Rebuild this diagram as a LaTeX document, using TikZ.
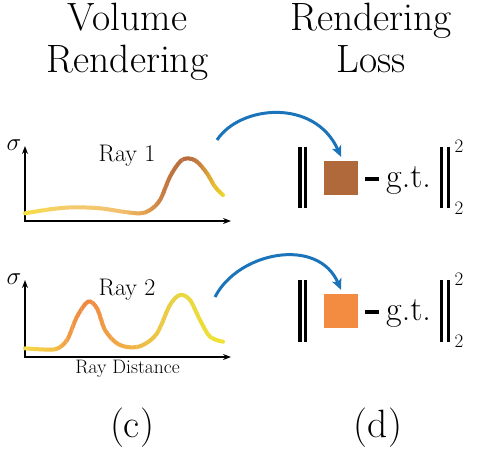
\documentclass[tikz,border=0pt]{standalone}
\usetikzlibrary{arrows.meta}
\definecolor{arcblue}{HTML}{1B74BA}
\definecolor{sqbrown}{HTML}{B0693A}
\definecolor{sqorange}{HTML}{F38B40}
\definecolor{aA}{HTML}{F7E23C}
\definecolor{aB}{HTML}{F5CD6C}
\definecolor{aC}{HTML}{F3C170}
\definecolor{aD}{HTML}{E4A250}
\definecolor{aE}{HTML}{C47A42}
\definecolor{aF}{HTML}{B86A3C}
\definecolor{aG}{HTML}{C98040}
\definecolor{aH}{HTML}{E2B532}
\definecolor{aI}{HTML}{F3E41E}
\definecolor{bA}{HTML}{F5E048}
\definecolor{bB}{HTML}{F3C048}
\definecolor{bC}{HTML}{F09844}
\definecolor{bD}{HTML}{EF8742}
\definecolor{bE}{HTML}{F09C44}
\definecolor{bF}{HTML}{F0B246}
\definecolor{bG}{HTML}{ECC646}
\definecolor{bH}{HTML}{E8D644}
\definecolor{bI}{HTML}{F2E430}
\newcommand\titlefont{\fontsize{39.5}{44}\selectfont}
\newcommand\rayfont{\fontsize{24}{26}\selectfont}
\newcommand\distfont{\fontsize{19.5}{21}\selectfont}
\newcommand\gtfont{\fontsize{34}{36}\selectfont}
\newcommand\expfont{\fontsize{19}{20}\selectfont}
\newcommand\sigfont{\fontsize{24}{26}\selectfont}
\newcommand\curveA[1]{\draw[curve,#1] plot[smooth,tension=0.55] coordinates {(25,213.3) (50,209.3) (73,207.3) (100,208.3) (123,211.7) (140,213.3) (150,210) (160,200) (170,176.7) (180,161.7) (188,158.3) (197,161.7) (207,173.3) (215,186.7) (223,195)};}
\newcommand\curveB[1]{\draw[curve,#1] plot[smooth,tension=0.55] coordinates {(25,348.3) (40,349.3) (56,349) (67,340) (77,316.7) (88,301.7) (97,308.3) (105,330) (117,343.3) (130,347.3) (143,345) (157,333.3) (170,305) (180,295) (190,300) (200,320) (210,336.7) (223,341.7)};}
\newcommand\gseg[5]{%
  \foreach \k in {0,...,7}{%
    \pgfmathsetmacro\xa{#2+(#3-#2)*\k/8}%
    \pgfmathsetmacro\xb{#2+(#3-#2)*(\k+1)/8+0.4}%
    \pgfmathtruncatemacro\pc{100-(\k+0.5)*12.5}%
    \begin{scope}
      \clip (\xa,100) rectangle (\xb,400);
      #1{color=#4!\pc!#5}
    \end{scope}
  }}
\begin{document}
\begin{tikzpicture}[x=1pt,y=-1pt,
  curve/.style={line width=4pt,line cap=round},
  axis/.style={line width=1.7pt,line join=miter,{Stealth[length=8pt,width=6pt]}-{Stealth[length=8pt,width=6pt]}},
  normbar/.style={line width=3.3pt},
  arcline/.style={arcblue,line width=3pt,-{Stealth[length=11pt,width=10pt,inset=3pt]}},
  lbl/.style={anchor=base,inner sep=0}]
\useasboundingbox (0,0) rectangle (478,451);
% titles
\node[lbl,font=\titlefont] (t1a) at (127.5,30.5) {Volume};
\node[lbl,font=\titlefont] (t1b) at (127.5,72.5) {Rendering};
\node[lbl,font=\titlefont] (t2a) at (371,30.5) {Rendering};
\node[lbl,font=\titlefont] (t2b) at (371,72) {Loss};
\node[lbl,font=\titlefont] (cc) at (132,437) {(c)};
\node[lbl,font=\titlefont] (dd) at (378,437) {(d)};
% graph 1
\coordinate (o1) at (25,221);
\coordinate (y1) at (25,146);
\coordinate (x1) at (231,221);
\draw[axis] (y1) -- (o1) -- (x1);
\node[font=\sigfont,inner sep=0] (s1) at (14,145) {$\sigma$};
\node[lbl,font=\rayfont] (r1) at (127,161.5) {Ray 1};
\gseg\curveA{18}{60}{aA}{aB}
\gseg\curveA{60}{120}{aB}{aC}
\gseg\curveA{120}{145}{aC}{aD}
\gseg\curveA{145}{165}{aD}{aE}
\gseg\curveA{165}{188}{aE}{aF}
\gseg\curveA{188}{200}{aF}{aG}
\gseg\curveA{200}{212}{aG}{aH}
\gseg\curveA{212}{230}{aH}{aI}
% graph 2
\coordinate (o2) at (25,357);
\coordinate (y2) at (25,280);
\coordinate (x2) at (231,357);
\draw[axis] (y2) -- (o2) -- (x2);
\node[font=\sigfont,inner sep=0] (s2) at (14,279) {$\sigma$};
\node[lbl,font=\rayfont] (r2) at (127,295) {Ray 2};
\node[lbl,font=\distfont] (rd) at (127.5,373) {Ray Distance};
\gseg\curveB{18}{55}{bA}{bB}
\gseg\curveB{55}{70}{bB}{bC}
\gseg\curveB{70}{88}{bC}{bD}
\gseg\curveB{88}{105}{bD}{bE}
\gseg\curveB{105}{130}{bE}{bF}
\gseg\curveB{130}{155}{bF}{bG}
\gseg\curveB{155}{180}{bG}{bH}
\gseg\curveB{180}{230}{bH}{bI}
% loss row 1
\node[fill=sqbrown,minimum size=34pt,inner sep=0] (q1) at (341,178) {};
\node[fill=black,minimum width=14pt,minimum height=4pt,inner sep=0] (m1) at (372,178.7) {};
\node[anchor=base west,font=\gtfont,inner sep=0] (g1) at (386,187.5) {g.t.};
\draw[normbar] (300,147) -- (300,208) (305.5,147) -- (305.5,208);
\draw[normbar] (441.5,147) -- (441.5,208) (448.5,147) -- (448.5,208);
\node[font=\expfont,inner sep=0] (p1) at (459,146.5) {2};
\node[font=\expfont,inner sep=0] (b1) at (459,208.5) {2};
\coordinate (a1) at (217,140);
\coordinate (e1) at ([yshift=4pt]q1.north);
\draw[arcline] (a1) .. controls (240,105) and (315,98) .. (e1);
% loss row 2
\node[fill=sqorange,minimum size=34pt,inner sep=0] (q2) at (341,311) {};
\node[fill=black,minimum width=14pt,minimum height=4pt,inner sep=0] (m2) at (372,311.7) {};
\node[anchor=base west,font=\gtfont,inner sep=0] (g2) at (386,320.5) {g.t.};
\draw[normbar] (300,280) -- (300,342) (305.5,280) -- (305.5,342);
\draw[normbar] (441.5,280) -- (441.5,342) (448.5,280) -- (448.5,342);
\node[font=\expfont,inner sep=0] (p2) at (459,279) {2};
\node[font=\expfont,inner sep=0] (b2) at (459,341.5) {2};
\coordinate (a2) at (215,297);
\coordinate (e2) at ([yshift=4pt]q2.north);
\draw[arcline] (a2) .. controls (238,252) and (318,236) .. (e2);
\end{tikzpicture}
\end{document}
